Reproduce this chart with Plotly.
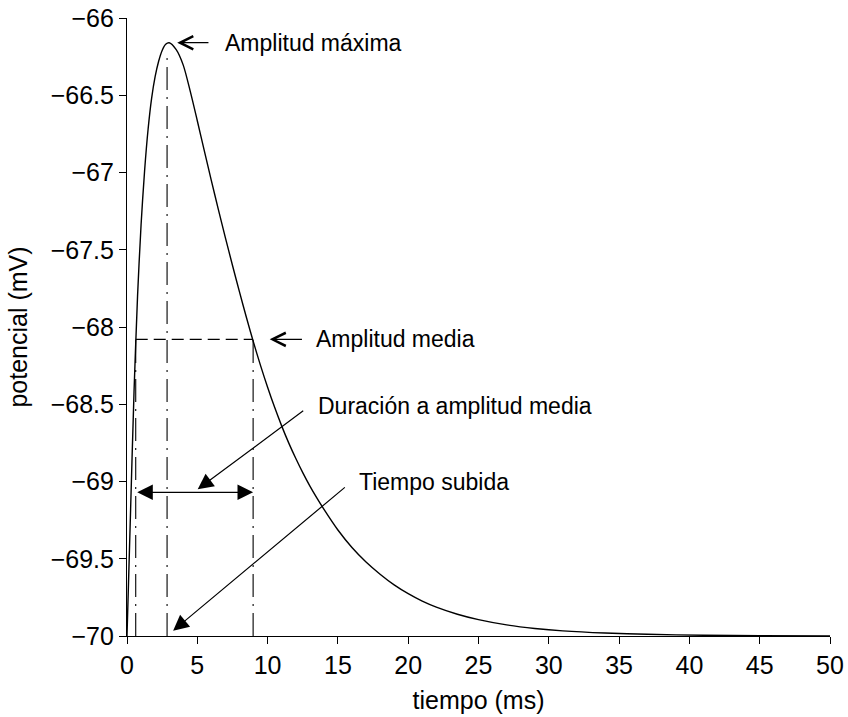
import plotly.graph_objects as go

# Curve (time in ms, potential in mV)
time_ms = [0, 0.25, 0.5, 0.75, 1.0, 1.25, 1.5, 1.75, 2.0, 2.25, 2.5, 2.75, 3.0,
           3.5, 4.0, 4.5, 5.0, 5.5, 6.0, 6.5, 7.0, 7.5, 8.0, 8.5, 9.0, 9.5,
           10.0, 10.5, 11.0, 11.5, 12.0, 12.5, 13.0, 13.5, 14.0, 15.0, 16.0,
           17.0, 18.0, 19.0, 20.0, 21.0, 22.0, 23.5, 25.0, 27.0, 29.0, 31.0,
           34.0, 37.0, 41.0, 45.0, 50.0]
potential_mv = [-70.0, -69.20, -68.42, -67.80, -67.34, -66.99, -66.72, -66.52,
                -66.38, -66.28, -66.21, -66.17, -66.16, -66.205, -66.305, -66.475,
                -66.665, -66.86, -67.053, -67.24, -67.423, -67.60, -67.773, -67.94,
                -68.10, -68.25, -68.39, -68.52, -68.64, -68.75, -68.85, -68.943,
                -69.028, -69.106, -69.179, -69.314, -69.427, -69.521, -69.60,
                -69.669, -69.726, -69.774, -69.813, -69.859, -69.894, -69.928,
                -69.951, -69.967, -69.981, -69.989, -69.995, -69.998, -70.0]

# Characteristic values
t_peak = 2.85
v_peak = -66.16
v_rest = -70.0
v_half = -68.08
t_half_rise = 0.62
t_half_decay = 8.97
v_duration_arrow = -69.07

x_ticks = [0, 5, 10, 15, 20, 25, 30, 35, 40, 45, 50]
y_ticks = [-70, -69.5, -69, -68.5, -68, -67.5, -67, -66.5, -66]

FONT = "Liberation Sans, Arial, sans-serif"
FS = 23
FS_AX = 25
DASHDOT = "23px,7px,2px,7px"

fig = go.Figure()

fig.add_trace(go.Scatter(x=time_ms, y=potential_mv, mode="lines",
                         line=dict(color="black", width=1.4, shape="spline", smoothing=0.8),
                         hoverinfo="skip", showlegend=False))

# vertical dash-dot at peak time
fig.add_trace(go.Scatter(x=[t_peak, t_peak], y=[v_rest, v_peak - 0.075], mode="lines",
                         line=dict(color="black", width=1.1, dash=DASHDOT),
                         showlegend=False, hoverinfo="skip"))
# vertical dash-dot at half amplitude crossings
for tt in (t_half_rise, t_half_decay):
    fig.add_trace(go.Scatter(x=[tt, tt], y=[v_rest, v_half], mode="lines",
                             line=dict(color="black", width=1.1, dash=DASHDOT),
                             showlegend=False, hoverinfo="skip"))
# horizontal dashed half amplitude line
fig.add_trace(go.Scatter(x=[t_half_rise, t_half_decay], y=[v_half, v_half], mode="lines",
                         line=dict(color="black", width=1.1, dash="12px,6px"),
                         showlegend=False, hoverinfo="skip"))

annotations = []
tfont = dict(family=FONT, size=FS, color="black")

# Amplitud máxima
annotations.append(dict(x=3.57, y=v_peak, ax=5.9, ay=v_peak, xref="x", yref="y",
                        axref="x", ayref="y", text="", showarrow=True,
                        arrowhead=5, arrowsize=2.0, arrowwidth=1.3, arrowcolor="black"))
annotations.append(dict(x=6.8, y=v_peak, xref="x", yref="y", text="Amplitud máxima",
                        showarrow=False, xanchor="left", yanchor="middle", font=tfont))
# Amplitud media
annotations.append(dict(x=10.15, y=v_half, ax=12.55, ay=v_half, xref="x", yref="y",
                        axref="x", ayref="y", text="", showarrow=True,
                        arrowhead=5, arrowsize=2.0, arrowwidth=1.3, arrowcolor="black"))
annotations.append(dict(x=13.3, y=v_half, xref="x", yref="y", text="Amplitud media",
                        showarrow=False, xanchor="left", yanchor="middle", font=tfont))
# Duración a amplitud media
annotations.append(dict(x=5.03, y=-69.05, ax=12.64, ay=-68.535, xref="x", yref="y",
                        axref="x", ayref="y", text="", showarrow=True,
                        arrowhead=2, arrowsize=2.6, arrowwidth=1.2, arrowcolor="black"))
annotations.append(dict(x=13.45, y=-68.51, xref="x", yref="y", text="Duración a amplitud media",
                        showarrow=False, xanchor="left", yanchor="middle", font=tfont))
# double arrow duration
annotations.append(dict(x=t_half_decay, y=v_duration_arrow, ax=t_half_rise, ay=v_duration_arrow,
                        xref="x", yref="y", axref="x", ayref="y", text="", showarrow=True,
                        arrowhead=2, startarrowhead=2, arrowside="end+start",
                        arrowsize=2.6, startarrowsize=2.6, arrowwidth=1.2, arrowcolor="black"))
# Tiempo subida
annotations.append(dict(x=3.28, y=-69.966, ax=15.6, ay=-69.03, xref="x", yref="y",
                        axref="x", ayref="y", text="", showarrow=True,
                        arrowhead=2, arrowsize=2.6, arrowwidth=1.2, arrowcolor="black"))
annotations.append(dict(x=16.35, y=-69.0, xref="x", yref="y", text="Tiempo subida",
                        showarrow=False, xanchor="left", yanchor="middle", font=tfont))

fig.update_layout(
    width=848, height=717,
    margin=dict(l=127, r=18, t=18, b=81),
    paper_bgcolor="white", plot_bgcolor="white",
    font=dict(family=FONT, size=FS, color="black"),
    annotations=annotations,
    showlegend=False,
)
fig.update_xaxes(range=[0, 50], tickvals=x_ticks, ticktext=[str(v) for v in x_ticks],
                 automargin=False,
                 showline=True, linecolor="black", linewidth=1.2, ticks="outside",
                 ticklen=7, tickwidth=1.2, tickcolor="black", showgrid=False, zeroline=False,
                 title=dict(text="tiempo (ms)", standoff=13, font=dict(family=FONT, size=FS_AX)),
                 tickfont=dict(family=FONT, size=FS_AX))
fig.update_yaxes(range=[-70, -66], tickvals=y_ticks,
                 ticktext=[("\u2212" + f"{abs(v):g}") for v in y_ticks],
                 automargin=False,
                 showline=True, linecolor="black", linewidth=1.2, ticks="outside",
                 ticklen=7, tickwidth=1.2, tickcolor="black", showgrid=False, zeroline=False,
                 title=dict(text="potencial (mV)", standoff=15, font=dict(family=FONT, size=FS_AX)),
                 tickfont=dict(family=FONT, size=FS_AX))

fig.write_html("out.html")
